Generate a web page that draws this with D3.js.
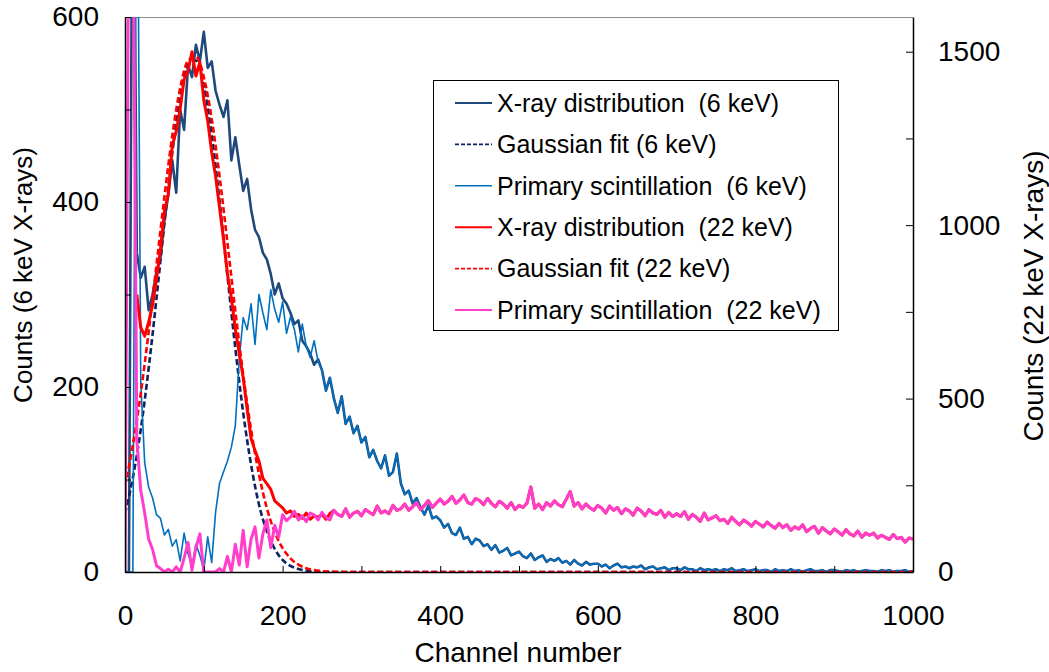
<!DOCTYPE html>
<html>
<head>
<meta charset="utf-8">
<script src="https://cdn.jsdelivr.net/npm/d3@7"></script>
<style>
  body { margin: 0; background: #fff; }
  svg { font-family: "Liberation Sans", Arial, sans-serif; }
</style>
</head>
<body>
<svg id="chart" width="1049" height="672"></svg>
<script>
// channel grid (every 5th channel) and the grid of the fitted curves
const channels = d3.range(0, 1001, 5);
const fitChannels = d3.range(0, 301, 10).concat([1000]);

// X-ray distribution, 6 keV (left axis)
const xray6 = [
  0, 0, 900, 345, 318, 330, 283, 300, 325, 340,
  380, 408, 445, 410, 500, 478, 548, 535, 570, 552,
  584, 545, 552, 520, 505, 492, 510, 445, 470, 440,
  412, 425, 392, 370, 362, 345, 338, 322, 300, 312,
  296, 290, 280, 268, 272, 250, 244, 236, 224, 230,
  218, 196, 210, 188, 172, 190, 160, 168, 150, 158,
  140, 146, 124, 132, 120, 112, 126, 104, 108, 128,
  96, 84, 88, 74, 80, 70, 62, 72, 58, 60,
  56, 48, 52, 42, 40, 48, 36, 38, 30, 36,
  34, 28, 30, 24, 29, 21, 23, 26, 18, 20,
  22, 17, 15, 20, 13, 16, 18, 11, 14, 12,
  15, 10, 12, 8, 13, 9, 7, 11, 8, 9,
  9, 6, 8, 4, 7, 9, 5, 6, 4, 6,
  5, 7, 3, 5, 6, 3, 4, 5, 2, 4,
  4, 2, 5, 3, 3, 1, 4, 2, 3, 2,
  3, 1, 3, 2, 4, 1, 2, 3, 1, 2,
  3, 1, 2, 2, 0, 3, 1, 2, 1, 3,
  1, 2, 0, 2, 3, 1, 1, 2, 0, 2,
  2, 1, 0, 2, 1, 2, 0, 1, 2, 1,
  1, 0, 2, 1, 2, 0, 1, 1, 2, 0,
  1
];

// Primary scintillation, 6 keV (left axis); above ch 250 it runs on the X-ray tail
const prim6Head = [
  0, 0, 0, 900, 205, 118, 92, 80, 62, 58,
  40, 46, 28, 35, 12, 42, 20, 6, 30, 18,
  2, 38, 10, 65, 96, 108, 120, 135, 158, 230,
  275, 262, 290, 246, 300, 280, 262, 305, 284, 270,
  292, 258, 276, 262, 238, 268, 244, 232, 250, 228
];
const prim6 = prim6Head.concat(xray6.slice(prim6Head.length));

// Primary scintillation, 22 keV (right axis)
const prim22 = [
  0, 2000, 2000, 380, 235, 170, 95, 65, 18, 10,
  0, 8, 0, 15, 0, 40, 85, 5, 70, 110,
  0, 0, 0, 0, 10, 0, 45, 0, 80, 20,
  120, 15, 95, 130, 40, 110, 150, 70, 135, 100,
  165, 148, 158, 175, 150, 162, 145, 170, 165, 150,
  172, 158, 150, 178, 166, 160, 182, 158, 170, 175,
  162, 180, 172, 165, 190, 170, 176, 168, 192, 178,
  182, 196, 178, 188, 200, 180, 192, 206, 186, 198,
  210, 196, 204, 218, 198, 208, 222, 200, 196, 212,
  206, 194, 212, 198, 188, 204, 196, 184, 200, 180,
  192, 186, 198, 245, 184, 196, 180, 200, 190, 205,
  194, 188, 210, 232, 190, 200, 182, 196, 185, 178,
  192, 184, 170, 190, 178, 186, 168, 182, 176, 164,
  184, 176, 162, 180, 170, 166, 178, 158, 172, 160,
  168, 160, 174, 152, 166, 158, 146, 170, 150, 156,
  162, 148, 152, 140, 158, 146, 136, 150, 142, 132,
  146, 138, 130, 144, 134, 126, 140, 128, 136, 120,
  130, 124, 136, 116, 126, 132, 112, 128, 118, 110,
  124, 116, 106, 122, 110, 104, 118, 100, 112, 106,
  112, 98, 106, 100, 94, 108, 96, 100, 86, 98,
  95
];

// X-ray distribution, 22 keV (right axis); above ch 265 it lies under the scintillation
const xray22Head = [
  null, null, null, 800, 705, 680, 720, 770, 845, 930,
  1040, 1090, 1230, 1270, 1335, 1420, 1445, 1500, 1430, 1470,
  1360, 1300, 1210, 1140, 1050, 960, 860, 790, 700, 630,
  560, 470, 385, 350, 320, 270, 255, 238, 205, 195,
  185, 170, 176, 160, 166, 155, 170, 152, 162, 158,
  166, 152, 168
];
const xray22 = xray22Head.concat(prim22.slice(xray22Head.length));

// Gaussian fits
const gauss6 = [63, 102, 154, 220, 296, 377, 453, 513, 548, 553, 526, 473, 401, 320, 242, 172,
  116, 73, 44, 25, 13, 6.6, 3.2, 1.4, 0.6, 0.2, 0, 0, 0, 0, 0, 0];
const gauss22 = [247, 366, 515, 692, 886, 1081, 1258, 1395, 1474, 1486, 1427, 1307, 1141, 949, 753, 569,
  410, 282, 184, 115, 69, 39, 21, 11, 5.4, 2.6, 1.2, 0.5, 0, 0, 0, 0];

const leftTicks = [0, 100, 200, 300, 400, 500, 600];
const rightTicks = [0, 250, 500, 750, 1000, 1250, 1500];
const xTicks = d3.range(0, 1001, 100);

const mLeft = 125, mRight = 913, mTop = 17, mBottom = 572;

const svg = d3.select('#chart');

const x = d3.scaleLinear().domain([0, 1000]).range([mLeft, mRight]);
const yL = d3.scaleLinear().domain([0, 600]).range([mBottom, mTop]);
const yR = d3.scaleLinear().domain([0, 1600]).range([mBottom, mTop]);

svg.append('defs').append('clipPath').attr('id', 'plot')
  .append('rect').attr('x', mLeft).attr('y', mTop)
  .attr('width', mRight - mLeft).attr('height', mBottom - mTop);

// top border
svg.append('line')
  .attr('x1', mLeft).attr('x2', mRight).attr('y1', mTop + 0.5).attr('y2', mTop + 0.5)
  .attr('stroke', '#8c8c8c').attr('stroke-width', 1.2);

const series = [
  { xs: channels, ys: xray6, y: yL, color: '#1F497D', w: 2.6, dash: null, curve: d3.curveLinear },
  { xs: fitChannels, ys: gauss6, y: yL, color: '#0d2360', w: 2.6, dash: '6,3', curve: d3.curveMonotoneX },
  { xs: channels, ys: prim6, y: yL, color: '#0070C0', w: 1.6, dash: null, curve: d3.curveLinear },
  { xs: channels, ys: xray22, y: yR, color: '#FF0000', w: 3, dash: null, curve: d3.curveLinear },
  { xs: fitChannels, ys: gauss22, y: yR, color: '#FF0000', w: 2.6, dash: '6,3', curve: d3.curveMonotoneX },
  { xs: channels, ys: prim22, y: yR, color: '#FF3FCC', w: 3, dash: null, curve: d3.curveLinear }
];

const plot = svg.append('g').attr('clip-path', 'url(#plot)');
series.forEach(s => {
  const pts = s.xs.map((c, i) => ({ c: c, v: s.ys[i] }));
  const line = d3.line()
    .defined(d => d.v != null)
    .x(d => x(d.c))
    .y(d => s.y(d.v))
    .curve(s.curve);
  plot.append('path')
    .datum(pts)
    .attr('fill', 'none')
    .attr('stroke', s.color)
    .attr('stroke-width', s.w)
    .attr('stroke-linejoin', 'round')
    .attr('stroke-dasharray', s.dash)
    .attr('d', line);
});

// axes
const fontSize = '28px';
const styleAxis = g => {
  g.selectAll('.tick line').attr('stroke', '#000');
  g.select('.domain').attr('stroke', '#000').attr('stroke-width', 1.5);
  g.selectAll('text').attr('fill', '#000').style('font-size', fontSize).style('font-family', '"Liberation Sans", Arial, sans-serif');
};

svg.append('g')
  .attr('transform', `translate(${mLeft},0)`)
  .call(d3.axisLeft(yL).tickValues(leftTicks).tickSize(-6).tickSizeOuter(0).tickPadding(26)
    .tickFormat(d => d % 200 === 0 ? d : ''))
  .call(styleAxis);

svg.append('g')
  .attr('transform', `translate(${mRight},0)`)
  .call(d3.axisRight(yR).tickValues(rightTicks).tickSize(-7).tickSizeOuter(0).tickPadding(25)
    .tickFormat(d => d % 500 === 0 ? d : ''))
  .call(styleAxis);

svg.append('g')
  .attr('transform', `translate(0,${mBottom})`)
  .call(d3.axisBottom(x).tickValues(xTicks).tickSize(-6).tickSizeOuter(0).tickPadding(33)
    .tickFormat(d => d % 200 === 0 ? d : ''))
  .call(styleAxis);

// axis titles
svg.append('text')
  .attr('x', 518).attr('y', 662)
  .attr('text-anchor', 'middle')
  .style('font-size', fontSize)
  .text('Channel number');

svg.append('text')
  .attr('transform', 'translate(32,275) rotate(-90)')
  .attr('text-anchor', 'middle')
  .style('font-size', '26px')
  .text('Counts (6 keV X-rays)');

svg.append('text')
  .attr('transform', 'translate(1043,296) rotate(-90)')
  .attr('text-anchor', 'middle')
  .style('font-size', fontSize)
  .text('Counts (22 keV X-rays)');

// legend
const legendNames = [
  'X-ray distribution  (6 keV)',
  'Gaussian fit (6 keV)',
  'Primary scintillation  (6 keV)',
  'X-ray distribution  (22 keV)',
  'Gaussian fit (22 keV)',
  'Primary scintillation  (22 keV)'
];
const legend = svg.append('g');
legend.append('rect')
  .attr('x', 433.5).attr('y', 80.5).attr('width', 405).attr('height', 250)
  .attr('fill', '#fff').attr('stroke', '#000').attr('stroke-width', 1);

const rowY = d3.scalePoint().domain(d3.range(legendNames.length)).range([103, 310]);
legendNames.forEach((name, i) => {
  const s = series[i];
  legend.append('line')
    .attr('x1', 455).attr('x2', 492).attr('y1', rowY(i)).attr('y2', rowY(i))
    .attr('stroke', s.color)
    .attr('stroke-width', s.dash ? 1.8 : (s.w > 2.5 ? 2 : 1.5))
    .attr('stroke-dasharray', s.dash ? '4,2' : null);
  legend.append('text')
    .attr('x', 497).attr('y', rowY(i)).attr('dy', '0.35em')
    .style('font-size', '25px')
    .style('white-space', 'pre')
    .text(name);
});
</script>
</body>
</html>
